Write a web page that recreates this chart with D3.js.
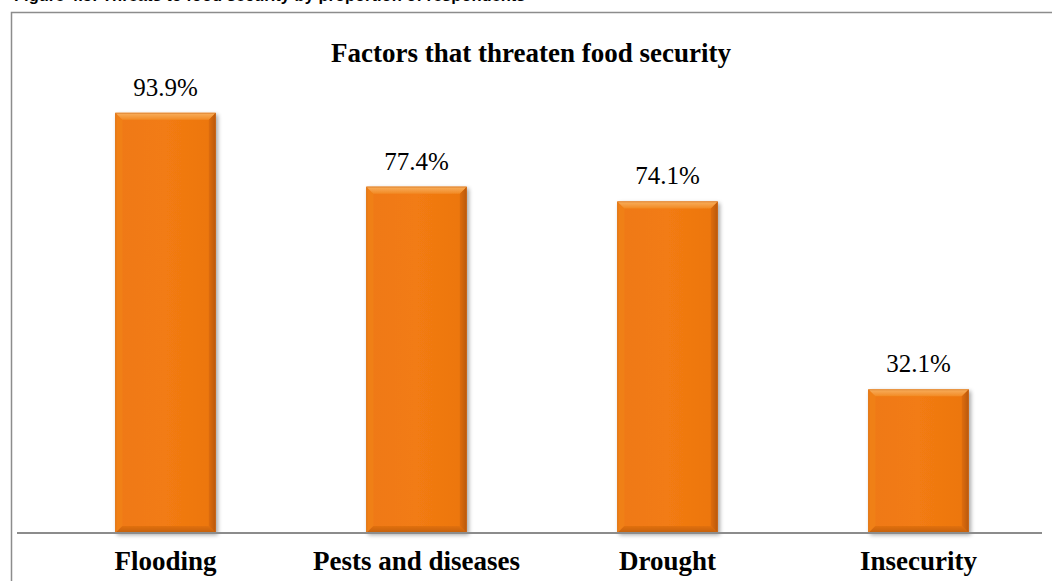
<!DOCTYPE html>
<html>
<head>
<meta charset="utf-8">
<script src="https://cdn.jsdelivr.net/npm/d3@7/dist/d3.min.js"></script>
<style>
  html, body { margin: 0; padding: 0; background: #ffffff; }
  svg { display: block; }
</style>
</head>
<body>
<svg id="chart" width="1052" height="581"></svg>
<script>
// Factors that threaten food security (share of respondents, %)
const categories = ["Flooding", "Pests and diseases", "Drought", "Insecurity"];
const values = [93.9, 77.4, 74.1, 32.1];
const valueLabels = ["93.9%", "77.4%", "74.1%", "32.1%"];
const chartTitle = "Factors that threaten food security";
const captionText = "Figure 4.5: Threats to food security by proportion of respondents";

const W = 1052, H = 581;
const svg = d3.select("#chart");

const plot = { left: 40, right: 1044, top: 85.5, bottom: 533 };

const x = d3.scaleBand()
  .domain(categories)
  .range([plot.left, plot.right])
  .paddingInner(0.6)
  .paddingOuter(0.3);

const y = d3.scaleLinear()
  .domain([0, 100])
  .range([plot.bottom, plot.top]);

const defs = svg.append("defs");

// soft shadow under each bar
const shadow = defs.append("filter")
  .attr("id", "barShadow")
  .attr("x", "-20%").attr("y", "-10%")
  .attr("width", "140%").attr("height", "130%");
shadow.append("feGaussianBlur").attr("in", "SourceAlpha").attr("stdDeviation", 2.2).attr("result", "blur");
shadow.append("feOffset").attr("in", "blur").attr("dx", 2).attr("dy", 1.5).attr("result", "off");
shadow.append("feComponentTransfer").attr("in", "off").attr("result", "shade")
  .append("feFuncA").attr("type", "linear").attr("slope", 0.35);
const merge = shadow.append("feMerge");
merge.append("feMergeNode").attr("in", "shade");
merge.append("feMergeNode").attr("in", "SourceGraphic");

// bevel gradients
const topGrad = defs.append("linearGradient").attr("id", "bevelTop")
  .attr("x1", 0).attr("y1", 0).attr("x2", 0).attr("y2", 1);
topGrad.append("stop").attr("offset", "0%").attr("stop-color", "#f8b060");
topGrad.append("stop").attr("offset", "100%").attr("stop-color", "#f28a24");

const bodyGrad = defs.append("linearGradient").attr("id", "barBody")
  .attr("x1", 0).attr("y1", 0).attr("x2", 1).attr("y2", 0);
bodyGrad.append("stop").attr("offset", "0%").attr("stop-color", "#ef7913");
bodyGrad.append("stop").attr("offset", "50%").attr("stop-color", "#f27b12");
bodyGrad.append("stop").attr("offset", "100%").attr("stop-color", "#ec760f");

const rightGrad = defs.append("linearGradient").attr("id", "bevelRight")
  .attr("x1", 0).attr("y1", 0).attr("x2", 1).attr("y2", 0);
rightGrad.append("stop").attr("offset", "0%").attr("stop-color", "#e06d0c");
rightGrad.append("stop").attr("offset", "100%").attr("stop-color", "#b8590a");

const bottomGrad = defs.append("linearGradient").attr("id", "bevelBottom")
  .attr("x1", 0).attr("y1", 0).attr("x2", 0).attr("y2", 1);
bottomGrad.append("stop").attr("offset", "0%").attr("stop-color", "#e2700d");
bottomGrad.append("stop").attr("offset", "100%").attr("stop-color", "#c2600a");

// caption above the frame (runs off the top edge of the page)
svg.append("text")
  .attr("x", 14)
  .attr("y", 1.2)
  .attr("font-family", "Liberation Sans, Arial, sans-serif")
  .attr("font-weight", "bold")
  .attr("font-size", 16.5)
  .attr("fill", "#000")
  .text(captionText);

// frame around the chart
svg.append("rect")
  .attr("x", 11.5).attr("y", 12.5)
  .attr("width", W + 20).attr("height", H + 20)
  .attr("fill", "none")
  .attr("stroke", "#8c8c8c")
  .attr("stroke-width", 1.5);

// title
svg.append("text")
  .attr("x", 531)
  .attr("y", 62)
  .attr("text-anchor", "middle")
  .attr("font-family", "Liberation Serif, Times New Roman, serif")
  .attr("font-weight", "bold")
  .attr("font-size", 27)
  .attr("fill", "#000")
  .text(chartTitle);

const data = categories.map((c, i) => ({ cat: c, v: values[i], label: valueLabels[i] }));
const bev = 7;

const bars = svg.append("g").selectAll("g.bar")
  .data(data)
  .join("g")
  .attr("class", "bar")
  .attr("filter", "url(#barShadow)");

bars.each(function (d) {
  const g = d3.select(this);
  const x0 = x(d.cat), x1 = x0 + x.bandwidth();
  const y0 = y(d.v), y1 = y(0);
  g.append("rect")
    .attr("x", x0).attr("y", y0)
    .attr("width", x1 - x0).attr("height", y1 - y0)
    .attr("fill", "url(#barBody)");
  // left bevel
  g.append("polygon")
    .attr("points", [[x0, y0], [x0 + bev, y0 + bev], [x0 + bev, y1 - bev], [x0, y1]].join(" "))
    .attr("fill", "#f08019");
  // right bevel
  g.append("polygon")
    .attr("points", [[x1, y0], [x1 - bev, y0 + bev], [x1 - bev, y1 - bev], [x1, y1]].join(" "))
    .attr("fill", "url(#bevelRight)");
  // bottom bevel
  g.append("polygon")
    .attr("points", [[x0, y1], [x0 + bev, y1 - bev], [x1 - bev, y1 - bev], [x1, y1]].join(" "))
    .attr("fill", "url(#bevelBottom)");
  // top bevel
  g.append("polygon")
    .attr("points", [[x0, y0], [x1, y0], [x1 - bev, y0 + bev], [x0 + bev, y0 + bev]].join(" "))
    .attr("fill", "url(#bevelTop)");
  g.append("rect")
    .attr("x", x0 + 0.5).attr("y", y0 + 0.5)
    .attr("width", x1 - x0 - 1).attr("height", y1 - y0 - 1)
    .attr("fill", "none")
    .attr("stroke", "#c8600c")
    .attr("stroke-opacity", 0.45)
    .attr("stroke-width", 1);
});

// value labels
svg.append("g").selectAll("text")
  .data(data)
  .join("text")
  .attr("x", d => x(d.cat) + x.bandwidth() / 2)
  .attr("y", d => y(d.v) - 17)
  .attr("text-anchor", "middle")
  .attr("font-family", "Liberation Serif, Times New Roman, serif")
  .attr("font-size", 25)
  .attr("fill", "#000")
  .text(d => d.label);

// category axis
const xAxis = svg.append("g")
  .attr("transform", `translate(0,${plot.bottom})`)
  .call(d3.axisBottom(x).tickSize(0).tickPadding(0));
xAxis.select(".domain")
  .attr("d", `M${plot.left - 23},0H${plot.right - 2}`)
  .attr("stroke", "#8c8c8c")
  .attr("stroke-width", 2);
xAxis.selectAll(".tick text")
  .attr("y", 37)
  .attr("dy", null)
  .attr("font-family", "Liberation Serif, Times New Roman, serif")
  .attr("font-weight", "bold")
  .attr("font-size", 27)
  .attr("fill", "#000");
</script>
</body>
</html>
